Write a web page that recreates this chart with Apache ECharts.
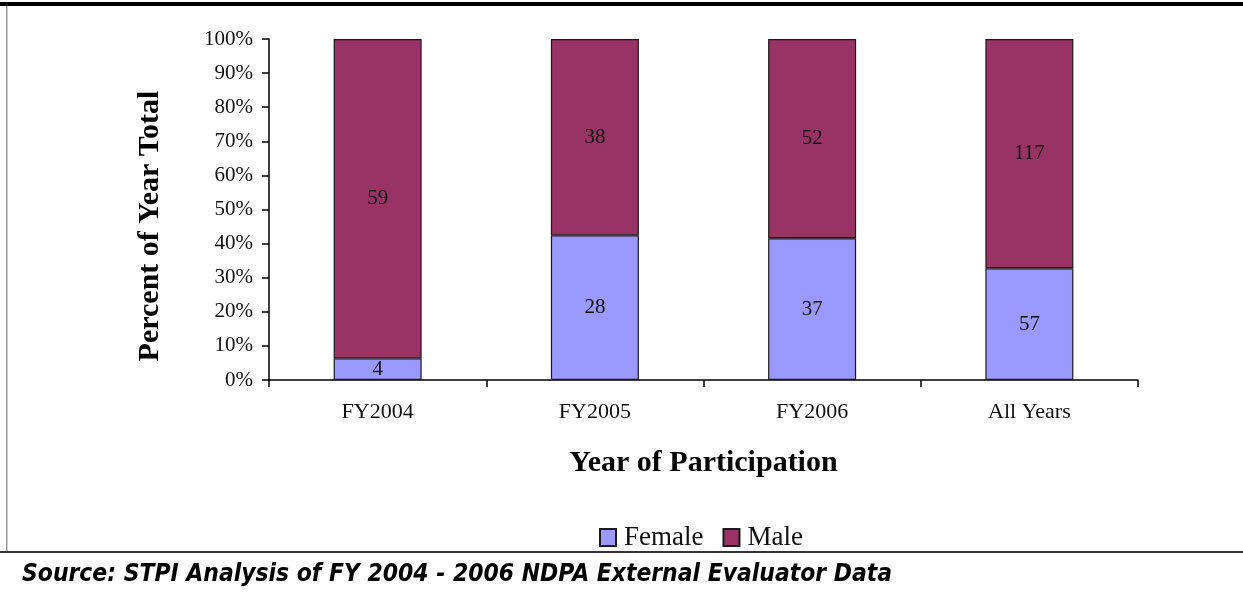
<!DOCTYPE html>
<html><head><meta charset="utf-8">
<script src="https://cdn.jsdelivr.net/npm/echarts@6/dist/echarts.min.js"></script>
<style>html,body{margin:0;padding:0;background:#fff;}#c{width:1243px;height:594px;}</style>
</head><body><div id="c"></div>
<script>
var categories = ['FY2004', 'FY2005', 'FY2006', 'All Years'];
var femaleCounts = [4, 28, 37, 57];
var maleCounts = [59, 38, 52, 117];
var yTicks = [0, 10, 20, 30, 40, 50, 60, 70, 80, 90, 100];

var totals = categories.map(function (c, i) { return femaleCounts[i] + maleCounts[i]; });
var femalePct = femaleCounts.map(function (v, i) { return v / totals[i] * 100; });
var malePct = maleCounts.map(function (v, i) { return v / totals[i] * 100; });

var serif = '"Liberation Serif", "Times New Roman", serif';
var chart = echarts.init(document.getElementById('c'), null, { renderer: 'canvas' });
function lbl(counts) {
  return {
    show: true, position: 'inside', color: '#111', fontFamily: serif, fontSize: 21,
    formatter: function (p) { return counts[p.dataIndex]; }
  };
}
chart.setOption({
  animation: false,
  backgroundColor: '#fff',
  grid: { left: 269, right: 105, top: 39, bottom: 214, containLabel: false },
  legend: {
    left: 594, top: 519, itemWidth: 16, itemHeight: 17, itemGap: 19,
    icon: 'rect',
    textStyle: { fontFamily: serif, fontSize: 27, color: '#111', padding: [0, 0, 0, 3] },
    data: ['Female', 'Male']
  },
  xAxis: {
    type: 'category', data: categories,
    name: 'Year of Participation', nameLocation: 'middle', nameGap: 68,
    nameTextStyle: { fontFamily: serif, fontSize: 30, fontWeight: 'bold', color: '#000' },
    axisLine: { lineStyle: { color: '#000', width: 1.5 } },
    axisTick: { show: true, length: 7, lineStyle: { color: '#000', width: 1.5 } },
    axisLabel: { fontFamily: serif, fontSize: 22, color: '#111', margin: 21 }
  },
  yAxis: {
    type: 'value', min: 0, max: 100, interval: 10,
    axisLine: { show: true, lineStyle: { color: '#000', width: 1.5 } },
    axisTick: { show: true, length: 7, lineStyle: { color: '#000', width: 1.5 } },
    splitLine: { show: false },
    axisLabel: {
      fontFamily: serif, fontSize: 21, color: '#111', margin: 16,
      formatter: function (v) { return yTicks.indexOf(v) >= 0 ? v + '%' : ''; }
    }
  },
  series: [
    {
      name: 'Female', type: 'bar', stack: 's', data: femalePct, barWidth: 88,
      itemStyle: { color: '#9999FF', borderColor: '#1a1a1a', borderWidth: 1.2 },
      label: lbl(femaleCounts)
    },
    {
      name: 'Male', type: 'bar', stack: 's', data: malePct, barWidth: 88,
      itemStyle: { color: '#993366', borderColor: '#1a1a1a', borderWidth: 1.2 },
      label: lbl(maleCounts)
    }
  ],
  graphic: [
    { type: 'rect', shape: { x: 0, y: 2, width: 1243, height: 4 }, style: { fill: '#000' } },
    { type: 'rect', shape: { x: 6, y: 6, width: 1.5, height: 546 }, style: { fill: '#999' } },
    { type: 'rect', shape: { x: 0, y: 551, width: 1243, height: 2 }, style: { fill: '#333' } },
    {
      type: 'text', x: 150, y: 226, rotation: Math.PI / 2,
      style: {
        text: 'Percent of Year Total', align: 'center', verticalAlign: 'middle',
        font: 'bold 30px "Liberation Serif", "Times New Roman", serif', fill: '#000'
      }
    },
    {
      type: 'text', left: 22, top: 563,
      style: {
        text: 'Source: STPI Analysis of FY 2004 - 2006 NDPA External Evaluator Data',
        font: 'italic bold 24.4px "DejaVu Sans Condensed", "DejaVu Sans", sans-serif',
        fill: '#000'
      }
    }
  ]
});
</script></body></html>
